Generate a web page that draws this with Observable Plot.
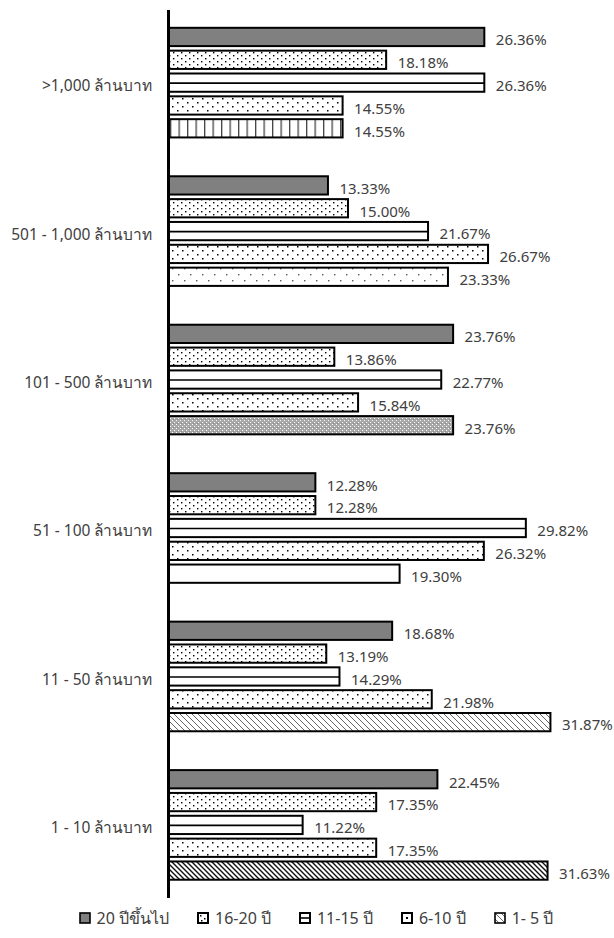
<!DOCTYPE html>
<html>
<head>
<meta charset="utf-8">
<script src="https://cdn.jsdelivr.net/npm/d3@7"></script>
<script src="https://cdn.jsdelivr.net/npm/@observablehq/plot@0.6"></script>
<style>
  html, body { margin: 0; padding: 0; background: #fff; }
  body { width: 614px; font-family: "Noto Sans", Tahoma, sans-serif; }
  #legend { display: flex; justify-content: center; align-items: center; font-size: 16px; color: #404040; height: 22px; margin-top: 7px; padding-left: 18px; }
  #legend .item { display: flex; align-items: center; margin: 0 14px; }
  #legend svg { margin-right: 6px; }
</style>
</head>
<body>
<svg width="0" height="0" style="position:absolute">
  <defs>
    <pattern id="dotsDense" patternUnits="userSpaceOnUse" width="8" height="6">
      <rect width="8" height="6" fill="#fff"/>
      <rect x="1" y="1" width="1.4" height="1.4" fill="#000"/>
      <rect x="5" y="4" width="1.4" height="1.4" fill="#000"/>
    </pattern>
    <pattern id="dotsSparse" patternUnits="userSpaceOnUse" width="10" height="8">
      <rect width="10" height="8" fill="#fff"/>
      <rect x="2" y="2" width="1.5" height="1.5" fill="#000"/>
      <rect x="7" y="6" width="1.5" height="1.5" fill="#000"/>
    </pattern>
    <pattern id="dotsVerySparse" patternUnits="userSpaceOnUse" width="12" height="12">
      <rect width="12" height="12" fill="#fff"/>
      <rect x="4" y="4" width="1.4" height="1.4" fill="#555"/>
      <rect x="10" y="10" width="1.4" height="1.4" fill="#555"/>
    </pattern>
    <pattern id="vlines" patternUnits="userSpaceOnUse" width="8.5" height="8">
      <rect width="8.5" height="8" fill="#fff"/>
      <rect x="0" y="0" width="1.3" height="8" fill="#444"/>
    </pattern>
    <pattern id="greyTex" patternUnits="userSpaceOnUse" width="4" height="4">
      <rect width="4" height="4" fill="#a8a8a8"/>
      <rect x="0" y="0" width="1" height="1" fill="#fff"/>
      <rect x="2" y="2" width="1" height="1" fill="#fff"/>
      <rect x="1" y="3" width="1" height="1" fill="#888"/>
    </pattern>
    <pattern id="diagLight" patternUnits="userSpaceOnUse" width="6" height="6">
      <rect width="6" height="6" fill="#fff"/>
      <path d="M-1,-1 L7,7 M-1,5 L1,7 M5,-1 L7,1" stroke="#666" stroke-width="1"/>
    </pattern>
    <pattern id="diagDense" patternUnits="userSpaceOnUse" width="5" height="5">
      <rect width="5" height="5" fill="#fff"/>
      <path d="M-1,-1 L6,6 M-1,4 L1,6 M4,-1 L6,1" stroke="#111" stroke-width="1.4"/>
    </pattern>
  </defs>
</svg>
<div id="chart"></div>
<div id="legend"></div>
<script>
// ---- data ----
const groups = [">1,000 ล้านบาท", "501 - 1,000 ล้านบาท", "101 - 500 ล้านบาท", "51 - 100 ล้านบาท", "11 - 50 ล้านบาท", "1 - 10 ล้านบาท"];
const seriesNames = ["20 ปีขึ้นไป", "16-20 ปี", "11-15 ปี", "6-10 ปี", "1- 5 ปี"];
const y20plus = [26.36, 13.33, 23.76, 12.28, 18.68, 22.45];
const y16to20 = [18.18, 15.00, 13.86, 12.28, 13.19, 17.35];
const y11to15 = [26.36, 21.67, 22.77, 29.82, 14.29, 11.22];
const y6to10  = [14.55, 26.67, 15.84, 26.32, 21.98, 17.35];
const y1to5   = [14.55, 23.33, 23.76, 19.30, 31.87, 31.63];

// ---- styles ----
const seriesFill = ["#808080", "url(#dotsDense)", "#ffffff", "url(#dotsSparse)", null];
const oneToFiveFill = ["url(#vlines)", "url(#dotsVerySparse)", "url(#greyTex)", "#ffffff", "url(#diagLight)", "url(#diagDense)"];

const seriesValues = [y20plus, y16to20, y11to15, y6to10, y1to5];
const GROUP_STEP = 6.5, HALF = 0.4;

const rows = [];
groups.forEach((g, gi) => {
  seriesValues.forEach((vals, si) => {
    const pos = gi * GROUP_STEP + si;
    rows.push({
      group: g, series: seriesNames[si], si, gi, value: vals[gi],
      pos, y1: pos - HALF, y2: pos + HALF,
      fill: si === 4 ? oneToFiveFill[gi] : seriesFill[si]
    });
  });
});
const groupRows = groups.map((g, gi) => ({group: g, pos: gi * GROUP_STEP + 2}));

const font = "Noto Sans, Tahoma, sans-serif";
const chart = Plot.plot({
  width: 614,
  height: 900,
  marginLeft: 168,
  marginRight: 2,
  marginTop: 10,
  marginBottom: 2,
  style: {fontFamily: font, background: "#fff"},
  x: {domain: [0, 37], axis: null},
  y: {domain: [-1.18, 37.7], reverse: true, axis: null},
  color: {type: "identity"},
  marks: [
    Plot.rectX(rows, {x1: 0, x2: "value", y1: "y1", y2: "y2", fill: "fill", stroke: "#000", strokeWidth: 2}),
    Plot.ruleY(rows.filter(d => d.si === 2), {y: "pos", x1: 0, x2: "value", stroke: "#000", strokeWidth: 1.6}),
    Plot.text(rows, {x: "value", y: "pos", text: d => d.value.toFixed(2) + "%", textAnchor: "start", dx: 11, dy: 3, fill: "#404040", fontSize: 15}),
    Plot.text(groupRows, {x: 0, y: "pos", text: "group", textAnchor: "end", dx: -16, dy: 3, fill: "#404040", fontSize: 15.5}),
    Plot.ruleX([0], {stroke: "#000", strokeWidth: 3})
  ]
});
document.getElementById("chart").appendChild(chart);

// ---- legend ----
const swatchInner = [
  `<rect x="1" y="1" width="10" height="10" fill="#808080" stroke="#000" stroke-width="1.6"/>`,
  `<rect x="1" y="1" width="10" height="10" fill="#fff" stroke="#000" stroke-width="2"/><rect x="3" y="3" width="1.5" height="1.5" fill="#000"/><rect x="7" y="6" width="1.5" height="1.5" fill="#000"/><rect x="4" y="8" width="1.5" height="1.5" fill="#000"/>`,
  `<rect x="1" y="1" width="10" height="10" fill="#fff" stroke="#000" stroke-width="2"/><line x1="1" x2="11" y1="6" y2="6" stroke="#000" stroke-width="1.6"/>`,
  `<rect x="1" y="1" width="10" height="10" fill="#fff" stroke="#000" stroke-width="2"/><rect x="5" y="5" width="2" height="2" fill="#000"/>`,
  `<rect x="1" y="1" width="10" height="10" fill="url(#diagLight)" stroke="#000" stroke-width="1.6"/>`
];
const legend = document.getElementById("legend");
seriesNames.forEach((name, i) => {
  const item = document.createElement("div");
  item.className = "item";
  item.innerHTML = `<svg width="12" height="12" viewBox="0 0 12 12">${swatchInner[i]}</svg><span>${name}</span>`;
  legend.appendChild(item);
});
</script>
</body>
</html>
